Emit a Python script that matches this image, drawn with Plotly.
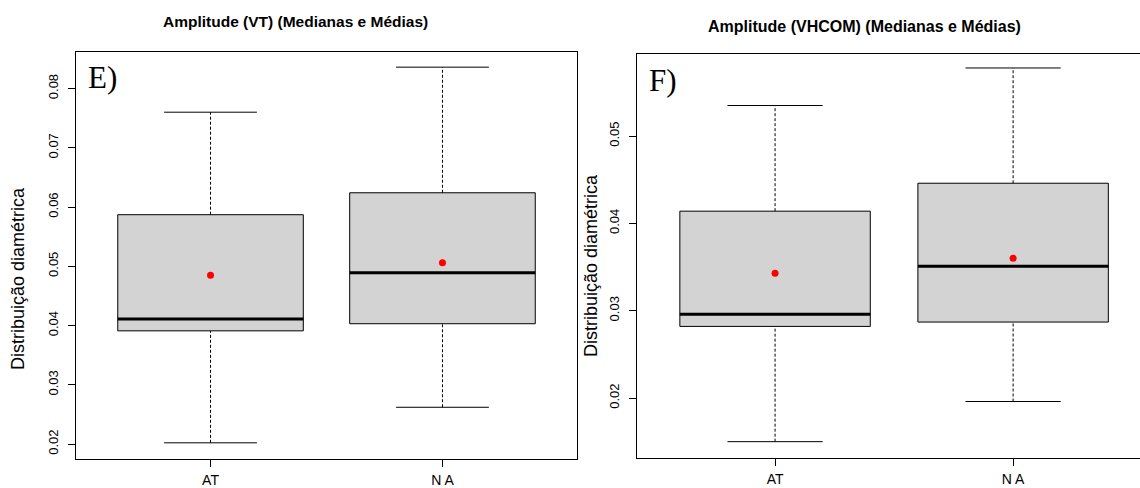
import plotly.graph_objects as go

# Groups on the x axis
groups = ["AT", "N A"]
positions = [1, 2]

# E) Amplitude (VT): box statistics per group
vt_low = [0.0202, 0.0262]
vt_q1 = [0.0391, 0.0403]
vt_median = [0.0411, 0.0489]
vt_q3 = [0.0587, 0.0624]
vt_high = [0.0760, 0.0836]
vt_mean = [0.0485, 0.0506]

# F) Amplitude (VHCOM): box statistics per group
vhcom_low = [0.0150, 0.0196]
vhcom_q1 = [0.0282, 0.0287]
vhcom_median = [0.0296, 0.0351]
vhcom_q3 = [0.0414, 0.0446]
vhcom_high = [0.0535, 0.0578]
vhcom_mean = [0.0343, 0.0360]

# Axis tick values
vt_ticks = [0.02, 0.03, 0.04, 0.05, 0.06, 0.07, 0.08]
vhcom_ticks = [0.02, 0.03, 0.04, 0.05]

W, H = 1140, 488
SANS = "Liberation Sans, Arial, sans-serif"
SERIF = "Liberation Serif, Times New Roman, serif"
BOX_HALF = 0.4
CAP_HALF = 0.2


def add_panel(fig, xa, ya, low, q1, med, q3, high, mean):
    # boxes
    for p, a, b in zip(positions, q1, q3):
        fig.add_trace(go.Scatter(
            x=[p - BOX_HALF, p + BOX_HALF, p + BOX_HALF, p - BOX_HALF, p - BOX_HALF],
            y=[a, a, b, b, a], mode="lines", fill="toself",
            fillcolor="#D3D3D3", line=dict(color="black", width=1),
            xaxis=xa, yaxis=ya, hoverinfo="skip", showlegend=False))
    # dashed whiskers
    wx, wy = [], []
    for p, lo, a, b, hi in zip(positions, low, q1, q3, high):
        wx += [p, p, None, p, p, None]
        wy += [lo, a, None, b, hi, None]
    fig.add_trace(go.Scatter(x=wx, y=wy, mode="lines",
                             line=dict(color="black", width=1, dash="3px,2px"),
                             xaxis=xa, yaxis=ya, hoverinfo="skip", showlegend=False))
    # whisker caps
    cx, cy = [], []
    for p, lo, hi in zip(positions, low, high):
        cx += [p - CAP_HALF, p + CAP_HALF, None, p - CAP_HALF, p + CAP_HALF, None]
        cy += [lo, lo, None, hi, hi, None]
    fig.add_trace(go.Scatter(x=cx, y=cy, mode="lines",
                             line=dict(color="black", width=1),
                             xaxis=xa, yaxis=ya, hoverinfo="skip", showlegend=False))
    # medians
    mx, my = [], []
    for p, m in zip(positions, med):
        mx += [p - BOX_HALF, p + BOX_HALF, None]
        my += [m, m, None]
    fig.add_trace(go.Scatter(x=mx, y=my, mode="lines",
                             line=dict(color="black", width=3),
                             xaxis=xa, yaxis=ya, hoverinfo="skip", showlegend=False))
    # means
    fig.add_trace(go.Scatter(x=positions, y=mean, mode="markers",
                             marker=dict(color="red", size=7),
                             xaxis=xa, yaxis=ya, hoverinfo="skip", showlegend=False))


fig = go.Figure()
add_panel(fig, "x", "y", vt_low, vt_q1, vt_median, vt_q3, vt_high, vt_mean)
add_panel(fig, "x2", "y2", vhcom_low, vhcom_q1, vhcom_median, vhcom_q3, vhcom_high, vhcom_mean)


def px_x(v):
    return v / W


def px_y(v):
    return 1 - v / H


common_x = dict(tickvals=positions, ticktext=groups, ticks="outside", ticklen=7,
                tickcolor="black", showline=True, mirror=True, linecolor="black",
                linewidth=1, showgrid=False, zeroline=False, automargin=False,
                tickfont=dict(family=SANS, size=14, color="black"),
                ticklabelstandoff=1)
common_y = dict(ticks="outside", ticklen=7, tickcolor="black", showline=True,
                linecolor="black", linewidth=1, showgrid=False, zeroline=False,
                automargin=False, tickangle=-90,
                tickfont=dict(family=SANS, size=13, color="black"),
                ticklabelstandoff=5)

fig.update_layout(
    width=W, height=H,
    margin=dict(l=0, r=0, t=0, b=0, autoexpand=False),
    paper_bgcolor="white", plot_bgcolor="white",
    xaxis=dict(domain=[px_x(76), px_x(577)], range=[0.42, 2.58], anchor="y", **common_x),
    yaxis=dict(domain=[px_y(459), px_y(52)], range=[0.01747, 0.08616], anchor="x",
               tickvals=vt_ticks, ticktext=[f"{t:.2f}" for t in vt_ticks],
               mirror=True, **common_y),
    xaxis2=dict(domain=[px_x(637), 1.0], range=[0.42, 2.533], anchor="y2", **common_x),
    yaxis2=dict(domain=[px_y(458), px_y(54)], range=[0.01313, 0.0594], anchor="x2",
                tickvals=vhcom_ticks, ticktext=[f"{t:.2f}" for t in vhcom_ticks],
                mirror=False, **common_y),
)

annotations = [
    dict(text="<b>Amplitude (VT) (Medianas e Médias)</b>", x=px_x(296), y=px_y(21),
         font=dict(family=SANS, size=15.5, color="black")),
    dict(text="<b>Amplitude (VHCOM) (Medianas e Médias)</b>", x=px_x(864), y=px_y(27),
         font=dict(family=SANS, size=16, color="black")),
    dict(text="E)", x=px_x(102), y=px_y(77),
         font=dict(family=SERIF, size=31, color="black")),
    dict(text="F)", x=px_x(663), y=px_y(81),
         font=dict(family=SERIF, size=31, color="black")),
    dict(text="Distribuição diamétrica", x=px_x(18), y=px_y(279), textangle=-90,
         font=dict(family=SANS, size=18, color="black")),
    dict(text="Distribuição diamétrica", x=px_x(591), y=px_y(265), textangle=-90,
         font=dict(family=SANS, size=18, color="black")),
]
for a in annotations:
    a.update(xref="paper", yref="paper", showarrow=False, xanchor="center", yanchor="middle")
fig.update_layout(annotations=annotations)

fig.write_html("out.html")
